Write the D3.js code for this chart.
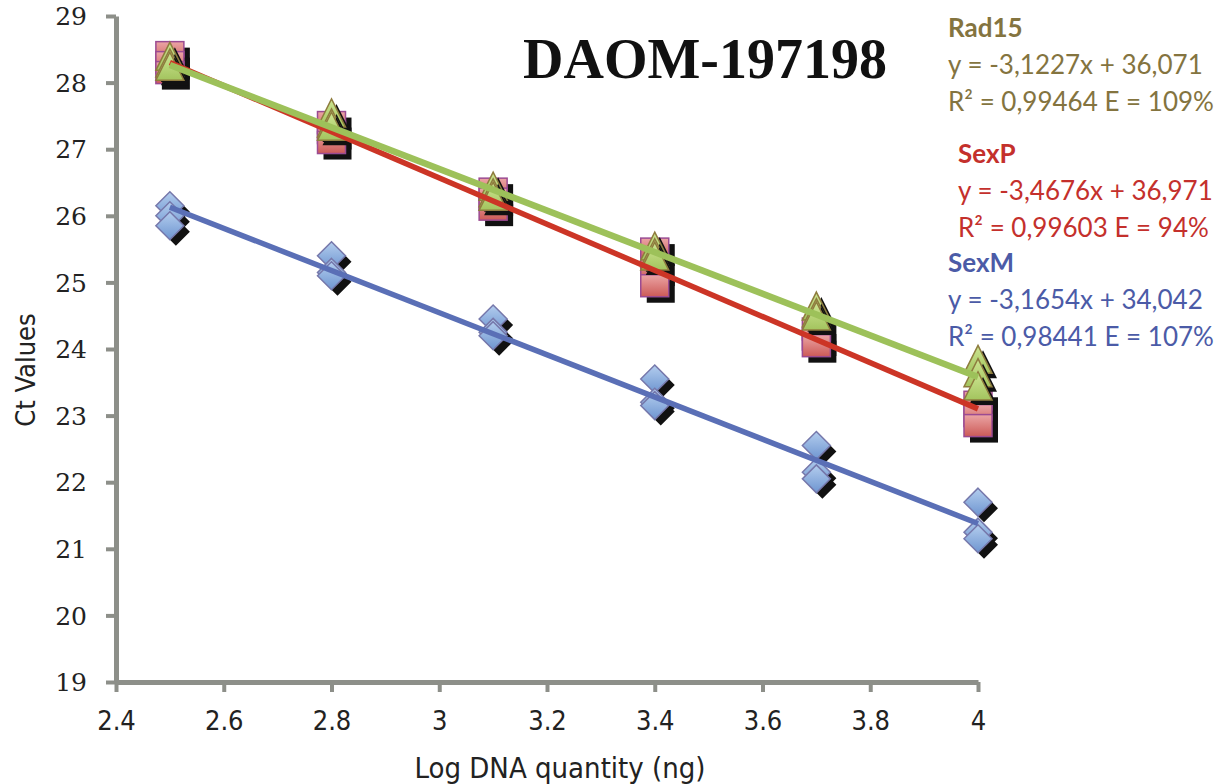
<!DOCTYPE html>
<html><head><meta charset="utf-8">
<script src="https://cdn.jsdelivr.net/npm/d3@7"></script>
<style>
html,body{margin:0;padding:0;background:#fff;}
svg{display:block;}
</style></head>
<body>
<svg id="chart" width="1220" height="784"></svg>
<script>
// ---- data ----
const xValues = [2.5, 2.8, 3.1, 3.4, 3.7, 4.0];
const sexM = [[26.15,26.0,25.85],[25.4,25.15,25.1],[24.45,24.25,24.2],[23.55,23.2,23.15],[22.55,22.15,22.05],[21.7,21.25,21.15]];
const sexP = [[28.45,28.3,28.15],[27.4,27.25,27.1],[26.4,26.25,26.1],[25.5,25.2,24.95],[24.3,24.15,24.05],[23.2,23.0,22.85]];
const rad15 = [[28.35,28.25,28.2],[27.5,27.35,27.3],[26.4,26.3,26.25],[25.5,25.4,25.35],[24.6,24.5,24.45],[23.8,23.6,23.4]];
const seriesNames = ["SexM","SexP","Rad15"];
const slopes = [-3.1654, -3.4676, -3.1227];
const intercepts = [34.042, 36.971, 36.071];
const xTicks = [2.4,2.6,2.8,3,3.2,3.4,3.6,3.8,4];
const yTicks = [19,20,21,22,23,24,25,26,27,28,29];
const eqLines = ["y = -3,1654x + 34,042","y = -3,4676x + 36,971","y = -3,1227x + 36,071"];
const r2Lines = ["R² = 0,98441 E = 107%","R² = 0,99603 E = 94%","R² = 0,99464 E = 109%"];
const title = "DAOM-197198";
const xLabel = "Log DNA quantity (ng)";
const yLabel = "Ct Values";

// ---- chart ----
const svg = d3.select("#chart");
const x = d3.scaleLinear().domain([2.4,4]).range([116,978]);
const y = d3.scaleLinear().domain([19,29]).range([682,16]);
const axisColor = "#8d8f89";
const condensed = "'Liberation Sans Narrow','Arial Narrow','DejaVu Sans Condensed',sans-serif";

const defs = svg.append("defs");
function grad(id, c1, c2){
  const g = defs.append("linearGradient").attr("id",id).attr("x1",0).attr("y1",0).attr("x2",0).attr("y2",1);
  g.append("stop").attr("offset","0%").attr("stop-color",c1);
  g.append("stop").attr("offset","100%").attr("stop-color",c2);
}
grad("gSq","#eba5a5","#cc5a57");
grad("gTri","#cde592","#a3c45e");
grad("gDia","#b3cdee","#6e95d0");

// axes
const yAxis = d3.axisLeft(y).tickValues(yTicks).tickSize(10).tickSizeOuter(0).tickFormat(d3.format("d"));
const gy = svg.append("g").attr("transform","translate(116,0)").call(yAxis);
gy.select(".domain").attr("stroke",axisColor).attr("stroke-width",5);
gy.selectAll(".tick line").attr("stroke",axisColor).attr("stroke-width",4);
gy.selectAll(".tick text").attr("x",-29).attr("dy","0.35em").attr("fill","#222")
  .style("font-family","'DejaVu Serif',serif").style("font-size","25px");

const xAxis = d3.axisBottom(x).tickValues(xTicks).tickSize(10).tickSizeOuter(0).tickFormat(d=>String(d));
const gx = svg.append("g").attr("transform","translate(0,682)").call(xAxis);
gx.select(".domain").attr("stroke",axisColor).attr("stroke-width",5);
gx.selectAll(".tick line").attr("stroke",axisColor).attr("stroke-width",4);
gx.selectAll(".tick text").attr("y",29).attr("dy","0.71em").attr("fill","#222")
  .style("font-family",condensed).style("font-size","27px");

// axis titles
svg.append("text").attr("x",560).attr("y",778).attr("text-anchor","middle")
  .style("font-family",condensed).style("font-size","29px").attr("fill","#222").text(xLabel);
svg.append("text").attr("transform","translate(35,370) rotate(-90)").attr("text-anchor","middle")
  .style("font-family",condensed).style("font-size","27px").attr("fill","#222").text(yLabel);

// markers
const points = [];
[sexM, sexP, rad15].forEach((ser, si) => {
  ser.forEach((reps, xi) => reps.forEach(v => points.push({s:si, xv:xValues[xi], v})));
});
const mk = svg.append("g");
points.forEach(p => {
  const cx = x(p.xv), cy = y(p.v);
  const g = mk.append("g").attr("transform",`translate(${cx},${cy})`);
  if (p.s === 0) {
    const d = "M0,-14 L14,0 L0,14 L-14,0 Z";
    g.append("path").attr("d",d).attr("transform","translate(6,6)").attr("fill","#111");
    g.append("path").attr("d",d).attr("fill","url(#gDia)").attr("stroke","#7678ab").attr("stroke-width",1.5);
  } else if (p.s === 1) {
    g.append("rect").attr("x",-14+6).attr("y",-11+6).attr("width",28).attr("height",22).attr("fill","#111");
    g.append("rect").attr("x",-14).attr("y",-11).attr("width",28).attr("height",22)
      .attr("fill","url(#gSq)").attr("stroke","#9b4b92").attr("stroke-width",1.5);
  } else {
    const d = "M0,-17 L14,11 L-14,11 Z";
    g.append("path").attr("d",d).attr("transform","translate(5,5)").attr("fill","#111");
    g.append("path").attr("d",d).attr("fill","url(#gTri)").attr("stroke","#8e7c3e").attr("stroke-width",1.5);
  }
});

// trend lines (order: SexP, Rad15, SexM)
const lineColors = ["#5a6fb6","#cc3526","#9dc15a"];
const lineWidths = [5.5,5.5,6.5];
[1,2,0].forEach(si => {
  svg.append("line")
    .attr("x1",x(2.5)).attr("y1",y(slopes[si]*2.5+intercepts[si]))
    .attr("x2",x(4)).attr("y2",y(slopes[si]*4+intercepts[si]))
    .attr("stroke",lineColors[si]).attr("stroke-width",lineWidths[si]);
});

// title
svg.append("text").attr("x",705).attr("y",78).attr("text-anchor","middle")
  .style("font-family","'Liberation Serif',serif").style("font-weight","bold").style("font-size","56px")
  .attr("fill","#111").text(title);

// equation annotations
const annColors = ["#4b5ba7","#c4302c","#84743f"];
const annX = [948,958,948];
const annY = [272,163,37];
[2,1,0].forEach(si => {
  const g = svg.append("g").attr("fill",annColors[si]).style("font-family","Lato,'Open Sans',sans-serif");
  g.append("text").attr("x",annX[si]).attr("y",annY[si]).style("font-size","26px").style("font-weight","bold").text(seriesNames[si]);
  g.append("text").attr("x",annX[si]).attr("y",annY[si]+37).style("font-size","26px").text(eqLines[si]);
  g.append("text").attr("x",annX[si]).attr("y",annY[si]+74).style("font-size","26px").text(r2Lines[si]);
});
</script>
</body></html>
